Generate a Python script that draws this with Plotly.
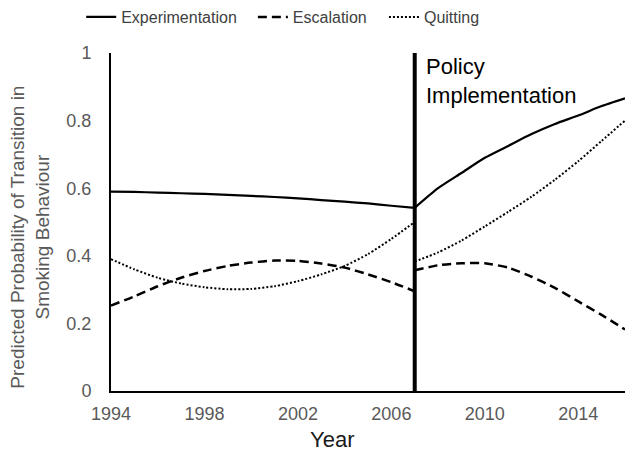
import plotly.graph_objects as go

# ---- data ----
years_pre = [1994, 1995, 1996, 1997, 1998, 1999, 2000, 2001, 2002, 2003, 2004, 2005, 2006, 2007]
years_post = [2007, 2008, 2009, 2010, 2011, 2012, 2013, 2014, 2015, 2016]

experimentation_pre = [0.590, 0.589, 0.587, 0.585, 0.583, 0.580, 0.577, 0.574, 0.570, 0.565, 0.560, 0.555, 0.548, 0.542]
experimentation_post = [0.542, 0.600, 0.645, 0.690, 0.725, 0.760, 0.790, 0.815, 0.843, 0.866]

escalation_pre = [0.253, 0.280, 0.310, 0.335, 0.355, 0.370, 0.380, 0.386, 0.385, 0.377, 0.365, 0.345, 0.322, 0.295]
escalation_post = [0.357, 0.372, 0.378, 0.378, 0.365, 0.338, 0.305, 0.265, 0.225, 0.182]

quitting_pre = [0.390, 0.360, 0.335, 0.318, 0.307, 0.301, 0.302, 0.310, 0.325, 0.345, 0.370, 0.405, 0.450, 0.500]
quitting_post = [0.383, 0.410, 0.445, 0.487, 0.530, 0.575, 0.625, 0.680, 0.740, 0.800]

policy_year = 2007
x_ticks = [1994, 1998, 2002, 2006, 2010, 2014]
y_ticks = [0, 0.2, 0.4, 0.6, 0.8, 1]
y_tick_text = ["0", "0.2", "0.4", "0.6", "0.8", "1"]

FONT = "Liberation Sans, Arial, sans-serif"

def joined(a, b):
    return a + [None] + b

xs = joined(years_pre, years_post)

fig = go.Figure()
fig.add_trace(go.Scatter(x=xs, y=joined(experimentation_pre, experimentation_post), mode="lines",
                         name="Experimentation", connectgaps=False, legend="legend",
                         line=dict(color="black", width=2.2, shape="spline", smoothing=0.6)))
fig.add_trace(go.Scatter(x=xs, y=joined(escalation_pre, escalation_post), mode="lines",
                         name="Escalation", connectgaps=False, legend="legend2",
                         line=dict(color="black", width=2.5, dash="9px,5px", shape="spline", smoothing=0.6)))
fig.add_trace(go.Scatter(x=xs, y=joined(quitting_pre, quitting_post), mode="lines",
                         name="Quitting", connectgaps=False, legend="legend3",
                         line=dict(color="black", width=2, dash="2px,2px", shape="spline", smoothing=0.6)))

fig.add_shape(type="line", x0=policy_year, x1=policy_year, y0=0, y1=1.02, xref="x", yref="y",
              line=dict(color="black", width=4))

fig.add_annotation(x=policy_year, y=1.0, xref="x", yref="y", xshift=9, yshift=1,
                   text="Policy<br>Implementation", showarrow=False, xanchor="left", yanchor="top",
                   align="left", font=dict(family=FONT, size=22, color="black"))

fig.add_annotation(x=-0.158, y=0.456, xref="paper", yref="paper", xanchor="center", yanchor="middle",
                   text="Predicted Probability of Transition in<br>Smoking Behaviour", showarrow=False,
                   textangle=-90, font=dict(family=FONT, size=19, color="#595959"))

fig.add_annotation(x=0.43, y=-0.143, xref="paper", yref="paper", text="Year", showarrow=False,
                   xanchor="center", yanchor="middle", font=dict(family=FONT, size=22, color="#1a1a1a"))

def leg(x):
    return dict(orientation="h", x=x, y=1 - 17 / 456, xref="paper", yref="container",
                xanchor="left", yanchor="middle", bgcolor="rgba(0,0,0,0)",
                font=dict(family=FONT, size=16, color="#404040"))

fig.update_layout(
    width=625, height=456,
    margin=dict(l=111, r=0, t=53, b=65, autoexpand=False),
    paper_bgcolor="white", plot_bgcolor="white",
    font=dict(family=FONT, size=18, color="#595959"),
    showlegend=True,
    legend=leg(-0.058), legend2=leg(0.276), legend3=leg(0.531),
    xaxis=dict(range=[1994, 2016], tickvals=x_ticks, ticks="", showgrid=False, zeroline=False,
               showline=True, linecolor="black", linewidth=2, ticklabelstandoff=5, automargin=False,
               tickfont=dict(family=FONT, size=18, color="#595959")),
    yaxis=dict(range=[0, 1], tickvals=y_ticks, ticktext=y_tick_text, ticks="", showgrid=False,
               zeroline=False, showline=True, linecolor="black", linewidth=2, ticklabelstandoff=14,
               automargin=False, tickfont=dict(family=FONT, size=18, color="#595959")),
)

fig.write_html("out.html", config={"displayModeBar": False},
               post_script="document.body.style.margin='0';document.body.style.overflow='hidden';")
